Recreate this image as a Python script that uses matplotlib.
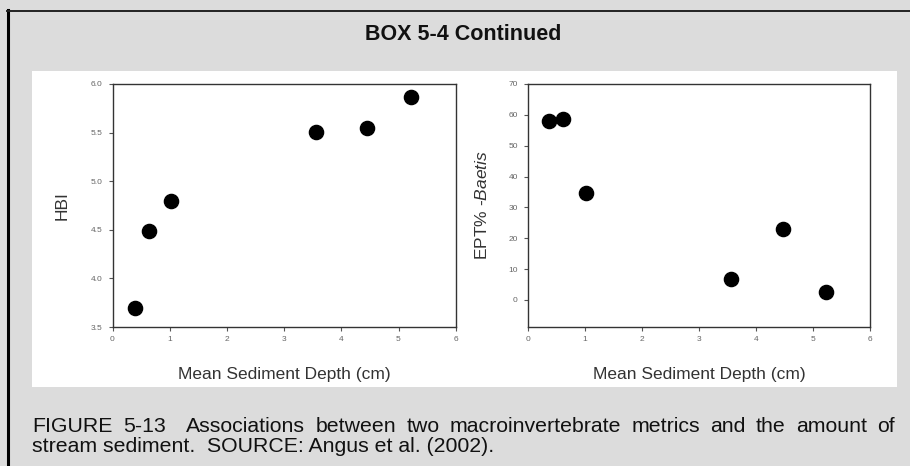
import matplotlib
matplotlib.use("Agg")
import matplotlib.pyplot as plt
from matplotlib.patches import Rectangle
from matplotlib.lines import Line2D

plt.rcParams["font.family"] = ["Liberation Sans", "DejaVu Sans"]
plt.rcParams["mathtext.fontset"] = "custom"
plt.rcParams["mathtext.rm"] = "Liberation Sans"
plt.rcParams["mathtext.it"] = "Liberation Sans:italic"

# ---- Data ----
depth_hbi = [0.39, 0.63, 1.02, 3.56, 4.45, 5.22]
hbi = [3.70, 4.49, 4.80, 5.51, 5.55, 5.87]

depth_ept = [0.38, 0.61, 1.02, 3.56, 4.47, 5.23]
ept = [58.0, 58.7, 34.8, 6.8, 22.9, 2.4]

x_ticks = [0, 1, 2, 3, 4, 5, 6]
hbi_ticks = [3.5, 4.0, 4.5, 5.0, 5.5, 6.0]
ept_ticks = [0, 10, 20, 30, 40, 50, 60, 70]

title = "BOX 5-4 Continued"
xlabel = "Mean Sediment Depth (cm)"
caption_1 = "FIGURE 5-13  Associations between two macroinvertebrate metrics and the amount of"
caption_2 = "stream sediment.  SOURCE: Angus et al. (2002)."

W, H = 910, 466
fig = plt.figure(figsize=(W / 100, H / 100), dpi=100)
fig.patch.set_facecolor("#dcdcdc")


def fx(px):
    return px / W


def fy(py):
    return 1 - py / H


# box border (left and top edges only, the rest is cropped)
fig.add_artist(Line2D([fx(8), fx(8)], [fy(10), fy(H + 5)], color="black", lw=2.2))
fig.add_artist(Line2D([fx(7), fx(W + 5)], [fy(10.5), fy(10.5)], color="#222", lw=1.4))

# white panel behind the plots
fig.add_artist(Rectangle((fx(32), fy(387)), fx(897) - fx(32), fy(71) - fy(387),
                         facecolor="white", edgecolor="none",
                         transform=fig.transFigure, zorder=-10))

fig.text(fx(463), fy(35), title, ha="center", va="center",
         fontsize=15.5, fontweight="bold", color="#111")


def style_axes(ax):
    for sp in ax.spines.values():
        sp.set_color("#333")
        sp.set_linewidth(1.0)
    ax.tick_params(direction="out", length=2.9, width=0.8, colors="#555",
                   labelcolor="#666", labelsize=6)
    ax.tick_params(axis="y", pad=4.3)
    ax.tick_params(axis="x", pad=3.6)
    ax.set_xlim(0, 6)
    ax.set_xticks(x_ticks)
    ax.set_xlabel(xlabel, fontsize=12.5, color="#333", va="center")
    ax.xaxis.set_label_coords(0.5, -0.1975)


# left: HBI
ax1 = fig.add_axes([fx(112.5), fy(327), fx(455.7) - fx(112.5), fy(84) - fy(327)])
ax1.plot(depth_hbi, hbi, "o", color="black", markersize=10.2)
ax1.set_ylim(3.5, 6.0)
ax1.set_yticks(hbi_ticks)
ax1.set_yticklabels([f"{v:.1f}" for v in hbi_ticks])
style_axes(ax1)
ax1.set_ylabel("HBI", fontsize=12.5, color="#333", va="center")
ax1.yaxis.set_label_coords(-0.147, 0.5)

# right: EPT% - Baetis
ax2 = fig.add_axes([fx(527.7), fy(327), fx(870) - fx(527.7), fy(84) - fy(327)])
ax2.plot(depth_ept, ept, "o", color="black", markersize=10.2)
ax2.set_ylim(-8.8, 70)
ax2.set_yticks(ept_ticks)
style_axes(ax2)
ax2.set_ylabel(r"EPT% -$\mathit{Baetis}$", fontsize=12.5, color="#333", va="center")
ax2.yaxis.set_label_coords(-0.1335, 0.5)

# caption: first line justified between the panel edges
cap_kw = dict(fontsize=15.3, color="#111", va="baseline")
left, right = 32, 895
tokens = caption_1.split(" ")
texts = [fig.text(0, fy(432), t, ha="left", **cap_kw) if t else None for t in tokens]
fig.canvas.draw()
renderer = fig.canvas.get_renderer()
widths = [t.get_window_extent(renderer).width if t is not None else 0.0 for t in texts]
gap = (right - left - sum(widths)) / (len(tokens) - 1)
x = left
for t, w in zip(texts, widths):
    if t is not None:
        t.set_x(fx(x))
    x += w + gap

fig.text(fx(left), fy(452), caption_2, ha="left", **cap_kw)

fig.savefig("out.png", dpi=100, facecolor=fig.get_facecolor())
